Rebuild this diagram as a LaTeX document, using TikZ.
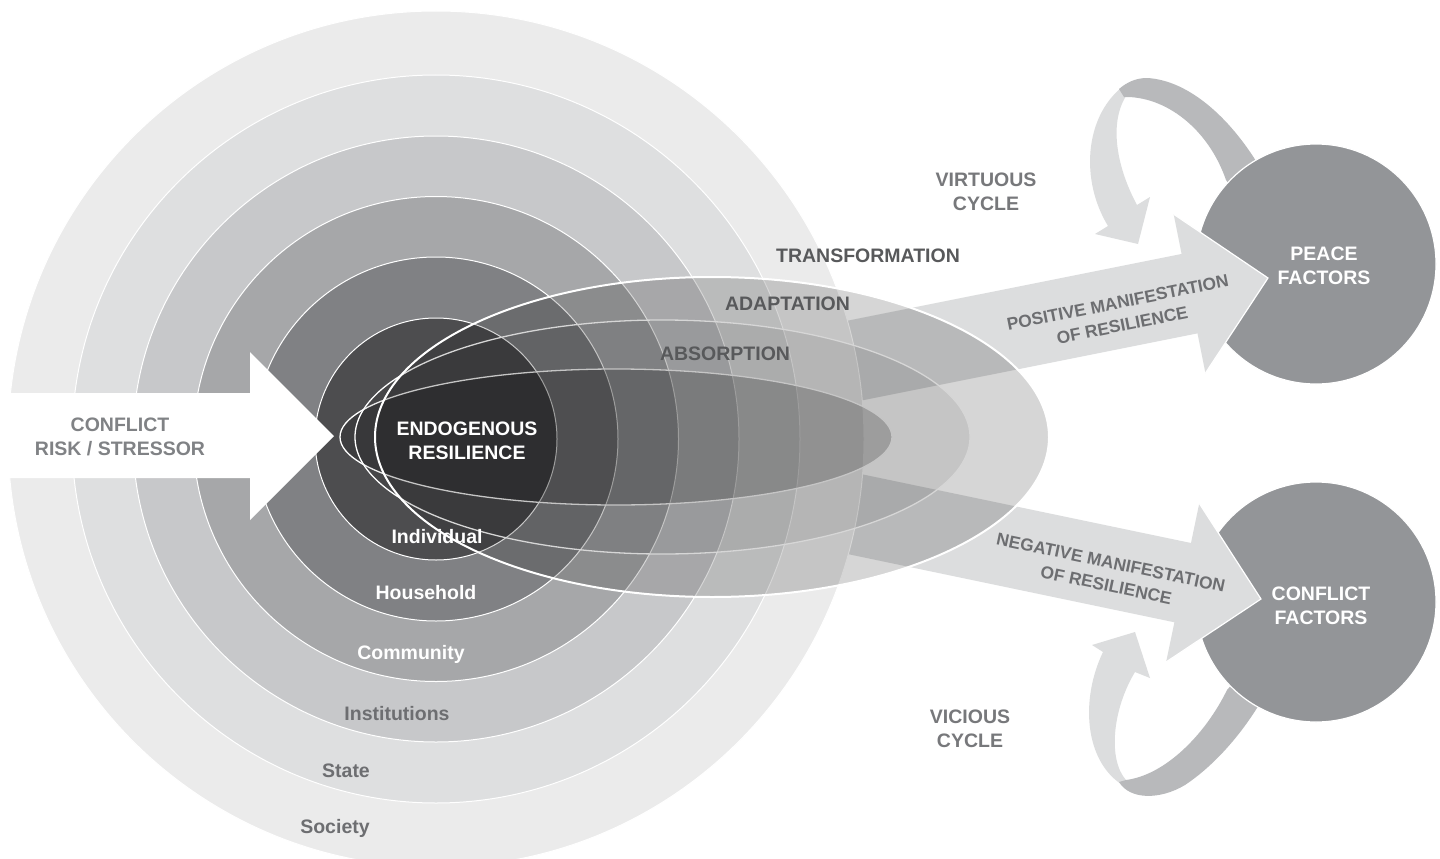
\documentclass[tikz,border=0pt]{standalone}
\usepackage{fontspec}
\setmainfont{Liberation Sans}
\definecolor{cSociety}{HTML}{EBEBEB}
\definecolor{cState}{HTML}{DEDFE0}
\definecolor{cInst}{HTML}{C7C8CA}
\definecolor{cComm}{HTML}{A6A7A9}
\definecolor{cHouse}{HTML}{808184}
\definecolor{cIndiv}{HTML}{4D4D4F}
\definecolor{cFactor}{HTML}{939598}
\definecolor{cLight}{HTML}{DCDDDE}
\definecolor{cDark}{HTML}{B8B9BB}
\definecolor{tDark}{HTML}{58595B}
\definecolor{tMid}{HTML}{6D6E71}
\definecolor{tCyc}{HTML}{77787B}
\definecolor{tGrey}{HTML}{808285}
\tikzset{
  ring/.style={draw=white, line width=1pt},
  lbl/.style={font=\fontsize{19.5}{24}\selectfont\bfseries, align=center, inner sep=0pt, text height=14pt, text depth=0pt},
  lbltwo/.style={font=\fontsize{19.5}{24}\selectfont\bfseries, align=center, inner sep=0pt},
  mlbl/.style={font=\fontsize{17.4}{23}\selectfont\bfseries, align=center, inner sep=0pt, text=tMid},
  factor/.style={circle, fill=cFactor, draw=white, line width=1.2pt, minimum size=240pt, inner sep=0pt},
  overlay1/.style={fill=black, draw=white},
  bigarrow/.style={fill=cLight},
  headedge/.style={draw=white, line width=1.2pt},
}
\begin{document}
\begin{tikzpicture}[x=1pt,y=-1pt]
\useasboundingbox (0,0) rectangle (1440,859);
\fill[white] (0,0) rectangle (1440,859);

% virtuous cycle ribbon
\fill[cLight] (1121,88) .. controls (1085,118) and (1080,180) .. (1108,226) -- (1095,234) -- (1138,244) -- (1150,197) -- (1137,205) .. controls (1118,170) and (1108,125) .. (1126,96) -- cycle;
\fill[cDark] (1270,180) -- (1256,161) .. controls (1225,112) and (1185,80) .. (1147,78) .. controls (1135,78) and (1126,83) .. (1119,89) -- (1124,97) .. controls (1165,96) and (1208,128) .. (1226,180) -- (1240,200) -- cycle;

% vicious cycle ribbon
\fill[cLight] (1121,784) .. controls (1085,760) and (1080,700) .. (1103,652) -- (1092,645) -- (1135,632) -- (1150,678) -- (1135,672) .. controls (1112,710) and (1108,760) .. (1126,780) -- cycle;
\fill[cDark] (1119,782) .. controls (1130,800) and (1160,800) .. (1185,785) .. controls (1215,765) and (1240,735) .. (1257,708) -- (1272,690) -- (1240,675) -- (1227,690) .. controls (1205,735) and (1165,775) .. (1126,780) -- cycle;

% factor circles
\node[factor] (peace) at (1316,264) {};
\node[factor] (conflictc) at (1316,602) {};

% positive arrow
\begin{scope}[shift={(1268,278)}, rotate=11.3]
  \fill[bigarrow] (0,0) -- (-80,-81) -- (-80,-40.5) -- (-470,-40.5) -- (-470,40.5) -- (-80,40.5) -- (-80,81) -- cycle;
  \draw[headedge] (-80,-81) -- (0,0) -- (-80,81);
\end{scope}
% negative arrow
\begin{scope}[shift={(1261,599)}, rotate=-11.8]
  \fill[bigarrow] (0,0) -- (-80,-81) -- (-80,-40.5) -- (-470,-40.5) -- (-470,40.5) -- (-80,40.5) -- (-80,81) -- cycle;
  \draw[headedge] (-80,-81) -- (0,0) -- (-80,81);
\end{scope}

% concentric circles
\foreach \r/\c in {428/cSociety, 364/cState, 303/cInst, 242.5/cComm, 182/cHouse, 121/cIndiv}
  \filldraw[fill=\c, ring] (436,439) circle[radius=\r];

% conflict risk arrow
\fill[white] (-5,393) -- (250,393) -- (250,352) -- (334,436) -- (250,520) -- (250,478) -- (-5,478) -- cycle;

% resilience ellipses
\filldraw[overlay1, fill opacity=0.20, line width=1.3pt] (616,437) ellipse[x radius=276, y radius=68];
\filldraw[overlay1, fill opacity=0.08, line width=1.3pt] (662.5,437) ellipse[x radius=307.5, y radius=117];
\filldraw[overlay1, fill opacity=0.16, line width=2pt] (712,437) ellipse[x radius=337, y radius=160];

% labels
\node[lbltwo, text=tGrey] (stress) at (120,436.5) {CONFLICT\\RISK / STRESSOR};
\node[lbltwo, text=white] (endo) at (467,440.5) {ENDOGENOUS\\RESILIENCE};
\node[lbl, text=white] (lind) at (437,536) {Individual};
\node[lbl, text=white] (lhouse) at (426,592) {Household};
\node[lbl, text=white] (lcomm) at (411,652) {Community};
\node[lbl, text=tMid] (linst) at (397,713) {Institutions};
\node[lbl, text=tMid] (lstate) at (346,770) {State};
\node[lbl, text=tMid] (lsoc) at (335,826) {Society};
\node[lbl, text=tDark] (ltrans) at (868,255) {TRANSFORMATION};
\node[lbl, text=tDark] (ladapt) at (787.5,303) {ADAPTATION};
\node[lbl, text=tDark] (labs) at (725,353) {ABSORPTION};
\node[lbltwo, text=tCyc] (lvirt) at (986,191.5) {VIRTUOUS\\CYCLE};
\node[lbltwo, text=tCyc] (lvic) at (970,729) {VICIOUS\\CYCLE};
\node[lbltwo, text=white] (lpeace) at (1324,266) {PEACE\\FACTORS};
\node[lbltwo, text=white] (lconf) at (1321,606) {CONFLICT\\FACTORS};
\node[mlbl, rotate=11.3] (lpos) at (1120,314) {POSITIVE MANIFESTATION\\OF RESILIENCE};
\node[mlbl, rotate=-11.8] (lneg) at (1108.5,574) {NEGATIVE MANIFESTATION\\OF RESILIENCE};
\end{tikzpicture}
\end{document}
